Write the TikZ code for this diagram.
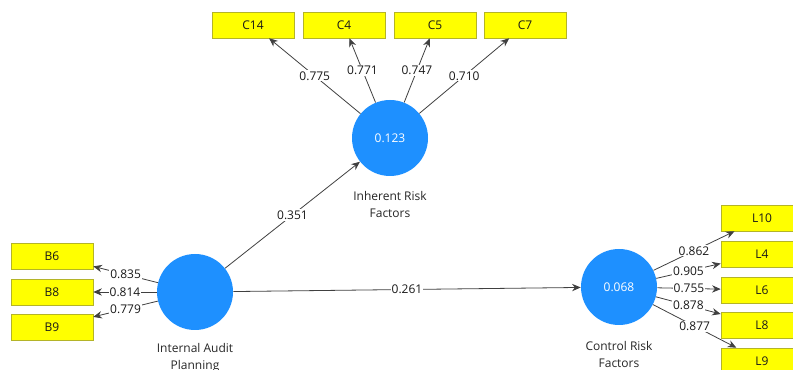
\documentclass[tikz,border=0pt]{standalone}
\usepackage{fontspec}
\setmainfont{Open Sans}
\usetikzlibrary{arrows.meta}
\definecolor{lvblue}{RGB}{30,144,255}
\definecolor{mvyellow}{RGB}{255,255,0}
\definecolor{mvedge}{RGB}{180,180,40}

\begin{document}
\begin{tikzpicture}[x=0.75pt,y=-0.75pt,
    latent/.style={circle,fill=lvblue,minimum size=57pt,inner sep=0pt,
                   text=white,font=\fontsize{9}{11}\selectfont},
    indic/.style={rectangle,draw=mvedge,fill=mvyellow,minimum width=61.5pt,
                  minimum height=19.5pt,inner sep=0pt,text=black!90,font=\fontsize{9}{11}\selectfont},
    link/.style={-{Stealth[length=6.5pt,width=5.5pt]},draw=black!75,line width=0.6pt},
    coef/.style={fill=white,inner sep=0.8pt,text=black!90,font=\fontsize{9}{11}\selectfont},
    lvname/.style={align=center,text=black!85,font=\fontsize{9}{12.75}\selectfont}]
    \useasboundingbox (0,0) rectangle (793,370);

    % latent variables
    \node[latent] (inh) at (390,138) {0.123};
    \node[latent] (iap) at (195,292) {};
    \node[latent] (crf) at (619,287) {0.068};
    \node[lvname] (inhname) at (390,205) {Inherent Risk\\Factors};
    \node[lvname] (iapname) at (195,358) {Internal Audit\\Planning};
    \node[lvname] (crfname) at (619,355) {Control Risk\\Factors};

    % indicators
    \node[indic] (c14) at (253,25) {C14};
    \node[indic] (c4)  at (344,25) {C4};
    \node[indic] (c5)  at (435,25) {C5};
    \node[indic] (c7)  at (525,25) {C7};
    \node[indic] (b6)  at (52,256) {B6};
    \node[indic] (b8)  at (52,292) {B8};
    \node[indic] (b9)  at (52,327) {B9};
    \node[indic] (l10) at (762,218) {L10};
    \node[indic] (l4)  at (762,254) {L4};
    \node[indic] (l6)  at (762,290) {L6};
    \node[indic] (l8)  at (762,325) {L8};
    \node[indic] (l9)  at (762,361) {L9};

    % inner model
    \draw[link] (iap) -- node[coef] {0.351} (inh);
    \draw[link] (iap) -- node[coef] {0.261} (crf);

    % outer model
    \draw[link] (inh) -- node[coef] {0.775} (c14);
    \draw[link] (inh) -- node[coef] {0.771} (c4);
    \draw[link] (inh) -- node[coef] {0.747} (c5);
    \draw[link] (inh) -- node[coef] {0.710} (c7);
    \draw[link] (iap) -- node[coef] {0.835} (b6);
    \draw[link] (iap) -- node[coef] {0.814} (b8);
    \draw[link] (iap) -- node[coef] {0.779} (b9);
    \draw[link] (crf) -- node[coef] {0.862} (l10);
    \draw[link] (crf) -- node[coef] {0.905} (l4);
    \draw[link] (crf) -- node[coef] {0.755} (l6);
    \draw[link] (crf) -- node[coef] {0.878} (l8);
    \draw[link] (crf) -- node[coef] {0.877} (l9);
\end{tikzpicture}
\end{document}
